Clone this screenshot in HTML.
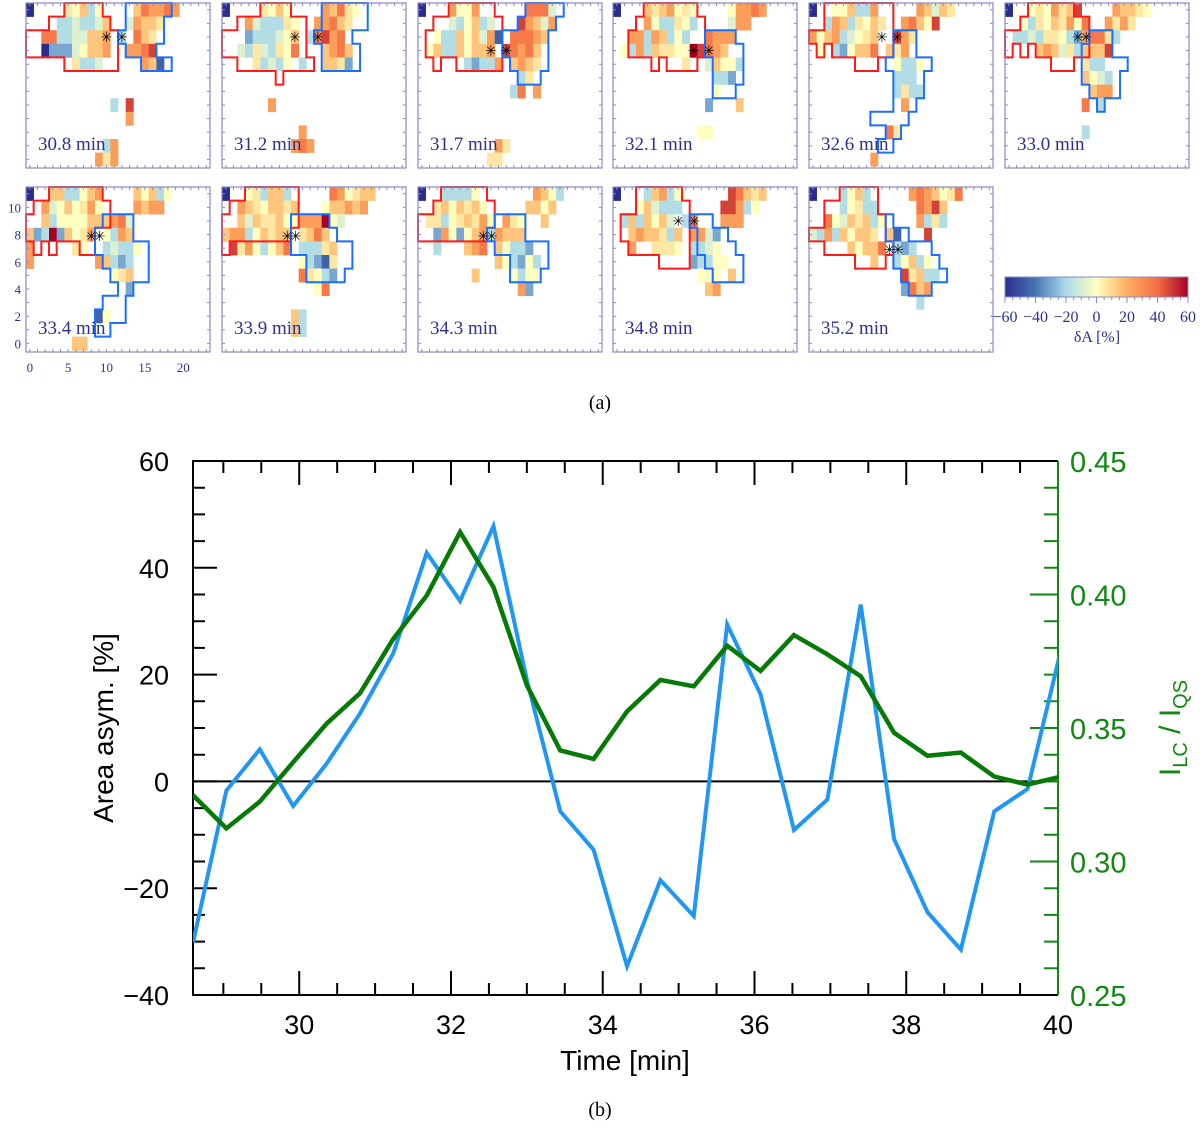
<!DOCTYPE html>
<html><head><meta charset="utf-8"><style>
html,body{margin:0;padding:0;background:#fff;}
svg{display:block;}
</style></head><body>
<svg id="fig" width="1200" height="1129" viewBox="0 0 1200 1129" xmlns="http://www.w3.org/2000/svg">
<g id="topPanels"></g>
<g id="colorbar"></g>
<text x="600" y="409" font-family="Liberation Serif, serif" font-size="20" text-anchor="middle">(a)</text>
<g id="chart"></g>
<text x="600" y="1116" font-family="Liberation Serif, serif" font-size="20" text-anchor="middle">(b)</text>
</svg>
<script>
// ===== Panel (a) data =====
const panelTimes = ["30.8","31.2","31.7","32.1","32.6","33.0","33.4","33.9","34.3","34.8","35.2"];
const levelValues = {B:-60,b:-45,m:-30,c:-18,d:-8,e:0,y:6,Y:14,o:25,O:36,r:48,R:60};
const grids = [
["B....yeYce....YOooOo....","....ccdccdY..doYYy......","..OOccddYYo.c.OYy.......","..BmmmdeYYo..ooOr.......","......yccd.....oYb......","........................","........................","...........c.r..........",".............o..........","........................","..........co............",".........oyo............"],
["B....yeYe....oYOye......","...odcccye..ooOYy.......","...mcccdeY.cOroO........","..dcydcyeO...YoOY.......","....ycdce.c..YYym.......","........................","........................","......o.................","........................","..........o.............",".........oOo............","........................"],
["B...oeeo......OOOd......","....dceYcd...roYdo......","..eccYeYdob.OOOoY.......",".eYccYeYYo.rOoOY........","......cmcco.YoYy........",".............cy.........","............cO.o........","........................","........................","........................","..........oy............",".........yy............."],
["B...YyYoeye....eooOo....","....oeccyec....doo......","..oocoYcec..Oooo........",".ecocYyyeeRrOoY.........",".........y..dYeec.......",".............ccm........",".............e..........","............m...Y.......","........................","...........ee...........","........................","........................"],
["B..eeYcco.....oYdYy.....","..coYcyeYy..oOYer.......","oeYocdeyY..roy..........",".e.cmeYYO.Yyo...........","...........ecce.........","...........ccc..........","...........cycc.........","............o...........","........................","..........Oy............","........................","........o..............."],
["B..eyeoyYr....oYYye.....","..ecyeYyoeO..oyoy.......",".ccdcyyecmoOOyc.........","....YoYdycYYYr..........","..........ycc...........","..........Yedc..........","...........Yoo..........","..........O.c...........","........................","..........c.............","........................","........................"],
["B..YYcceYo....YeYce.....","..odeYeyoe....oYoo......","..YceeeeYYYoOd..........","YmcRmYeyo.ecoY..........","o.....ye..cdcce.........","o........oYcmc..........","...........eyY..........",".............m..........","........................",".........be.............","........................","......YY................"],
["B..eycYYc.....OoeyYY....","..oYyeYYyY...eYYoYo.....","..YdYyyYeeoooRed........","YooceYyYY.yYOY..........",".ryoeceYO.cccyY.........","..........ecmby.........","..........Oyecm.........","............eO..........","........................",".........Yc.............",".........Yc.............","........................"],
["B..cccce.......oYec.....","..yYeYyYe.....YYeY......",".yyceyYyoe.oye..Y.......","..moemeYocoYYY..........","..c...YoO.Yeccm.........","..........Yecmec........",".......Y....ecee........",".............om.........","........................","........................","........................","........................"],
["B...cYoce......rOYyY....","...eYdccc.....rroce.....",".cYcYeYd.cO...ooo.......","..YoYYycY.oodm..........","..o..yyye.ccde..........","..........mccee.........","...........eee.Y........","............Yo..........","........................","........................","........................","........................"],
["B...ceYc.....oOoYeyO....","....ceycc.....OorY......","..OedYyYce....ocyc......","dcocYeYYy.Yb...r........",".....YeYYO.cmc..........","........Y..ceYce........","............ryYcc.......","............mOYo........","..............c.........","........................","........................","........................"]
];
const redRegions = [
[[0,5,9],[1,3,10],[2,0,11],[3,0,11],[4,5,11]],
[[0,5,8],[1,2,10],[2,0,10],[3,0,10],[4,2,11],[5,7,7]],
[[0,4,9],[1,2,10],[2,1,10],[3,1,10],[4,2,2],[4,5,10]],
[[0,4,10],[1,3,11],[2,2,11],[3,2,11],[4,5,5],[4,7,10]],
[[0,2,10],[1,2,10],[2,0,10],[3,1,1],[3,3,10],[4,6,8]],
[[0,3,8],[1,2,10],[2,0,10],[3,0,0],[3,2,2],[3,4,10],[4,6,8]],
[[0,3,9],[1,1,10],[2,0,10],[3,0,8],[4,1,1],[4,3,3],[4,7,8]],
[[0,3,9],[1,1,9],[2,0,9],[3,0,8],[4,0,0]],
[[0,3,8],[1,2,9],[2,0,9],[3,0,8]],
[[0,3,8],[1,3,9],[2,1,9],[3,1,9],[4,2,9],[5,6,9]],
[[0,4,8],[1,2,8],[2,2,9],[3,0,9],[4,2,10],[5,6,9]]
];
const blueRegions = [
[[0,13,18],[1,13,17],[2,12,17],[3,13,16],[4,15,18]],
[[0,13,18],[1,13,18],[2,12,16],[3,13,17],[4,13,17]],
[[0,14,18],[1,13,17],[2,11,16],[3,11,16],[4,12,16],[5,13,15]],
[[2,12,15],[3,12,16],[4,13,16],[5,13,16],[6,13,15]],
[[2,11,13],[3,11,13],[4,10,15],[5,11,14],[6,11,14],[7,11,13],[8,8,12],[9,10,11],[10,9,10]],
[[2,11,13],[3,10,13],[4,10,15],[5,10,14],[6,11,14],[7,12,12]],
[[2,10,13],[3,9,13],[4,9,15],[5,10,15],[6,11,15],[7,12,13],[8,10,12],[9,9,12],[10,9,10]],
[[2,9,13],[3,9,14],[4,9,16],[5,11,16],[6,11,15]],
[[2,10,13],[3,9,13],[4,10,16],[5,12,16],[6,12,15]],
[[2,10,12],[3,11,14],[4,11,15],[5,12,16],[6,13,16]],
[[2,10,10],[3,10,12],[4,11,15],[5,11,16],[6,12,17],[7,13,15]]
];
const starCols = [[10.5,12.5],[9.5,12.5],[9.5,11.5],[10.5,12.5],[9.5,11.5],[9.5,10.6],[8.5,9.6],[8.5,9.6],[8.5,9.6],[8.5,10.6],[10.5,11.6]];
const starRows = [2.5,2.5,3.5,3.5,2.5,2.5,3.6,3.6,3.6,2.5,4.6];
const cbTicks = [-60,-40,-20,0,20,40,60];
const yMapTicks = [0,2,4,6,8,10];
const xMapTicks = [0,5,10,15,20];

// ===== Panel (b) data =====
const times = [28.6,29.04,29.48,29.92,30.36,30.8,31.24,31.68,32.12,32.56,33.0,33.44,33.88,34.32,34.76,35.2,35.64,36.08,36.52,36.96,37.4,37.84,38.28,38.72,39.16,39.6,40.04];
const areaAsym = [-30.2,-1.7,6.0,-4.6,3.3,12.7,24.0,42.8,33.8,47.8,19.0,-5.6,-12.8,-34.6,-18.5,-25.2,29.4,16.3,-9.1,-3.4,33.1,-10.8,-24.5,-31.5,-5.6,-1.4,24.7];
const intensity = [0.3248,0.3124,0.3224,0.3372,0.3516,0.3630,0.3834,0.3996,0.4234,0.4028,0.3660,0.3416,0.3384,0.3562,0.3680,0.3656,0.3808,0.3714,0.3848,0.3776,0.3694,0.3482,0.3396,0.3408,0.3318,0.3288,0.3318];
const xTicks = [30,32,34,36,38,40];
const yTicks = [-40,-20,0,20,40,60];
const rTicks = [0.25,0.30,0.35,0.40,0.45];
const rTickLabels = ["0.25","0.30","0.35","0.40","0.45"];

const NS = "http://www.w3.org/2000/svg";
function mk(tag, attrs, parent){const e=document.createElementNS(NS,tag);for(const k in attrs)e.setAttribute(k,attrs[k]);parent.appendChild(e);return e;}

const cStops=[[-60,[43,45,140]],[-40,[69,117,180]],[-20,[171,217,233]],[0,[255,255,191]],[20,[253,174,97]],[40,[244,109,67]],[60,[165,0,38]]];
function cmap(v){v=Math.max(-60,Math.min(60,v));for(let i=0;i<cStops.length-1;i++){const a=cStops[i],b=cStops[i+1];if(v<=b[0]){const t=(v-a[0])/(b[0]-a[0]);const c=a[1].map((x,j)=>Math.round(x+(b[1][j]-x)*t));return`rgb(${c[0]},${c[1]},${c[2]})`;}}return"rgb(165,0,38)";}

const tp=document.getElementById('topPanels');
const PW=184,PH=165,CW=7.67,CH=13.6,NC=24,NR=12;
const panelX=[26,222,418,613,809,1005,26,222,418,613,809];
const panelY=[3,3,3,3,3,3,187,187,187,187,187];
const frame="#8a8ac8",navy="#2e3192";
grids.forEach((g,p)=>{
  const x0=panelX[p],y0=panelY[p];
  const pg=mk('g',{},tp);
  
  
  g.forEach((row,r)=>{for(let c=0;c<NC;c++){const ch=row[c];if(!ch||ch==='.')continue;const v=levelValues[ch];
    const cell=mk('rect',{x:x0+c*CW,y:y0+r*CH,width:CW+0.3,height:CH+0.3,fill:cmap(v)},pg);
    
    }});
  function outline(regs,color,nm){
    const m=Array.from({length:NR},()=>Array(NC).fill(false));
    regs.forEach(([r,a,b])=>{for(let c=a;c<=b;c++)m[r][c]=true;});
    let d="";const on=(r,c)=>r>=0&&r<NR&&c>=0&&c<NC&&m[r][c];
    for(let r=0;r<NR;r++)for(let c=0;c<NC;c++){if(!m[r][c])continue;const X=x0+c*CW,Y=y0+r*CH;
      if(!on(r-1,c))d+=`M${X},${Y}H${X+CW}`;if(!on(r+1,c))d+=`M${X},${Y+CH}H${X+CW}`;
      if(!on(r,c-1))d+=`M${X},${Y}V${Y+CH}`;if(!on(r,c+1))d+=`M${X+CW},${Y}V${Y+CH}`;}
    const pth=mk('path',{d:d,stroke:color,'stroke-width':2,fill:'none','stroke-linecap':'square'},pg);
    
    
  }
  outline(redRegions[p],'#ff1a1a','red-contour');
  outline(blueRegions[p],'#1a6fff','blue-contour');
  starCols[p].forEach(sc=>{const st=mk('text',{x:x0+sc*CW,y:y0+starRows[p]*CH+5,'font-size':14,'text-anchor':'middle','font-family':'DejaVu Sans, sans-serif',fill:'#000'},pg);st.textContent='✳';
    
    });
  const fr=mk('rect',{x:x0,y:y0,width:PW,height:PH,fill:'none',stroke:frame,'stroke-width':1.2},pg);
  
  
  let td="";for(let i=0;i<=NC;i+=1){const X=x0+(i+0.5)*CW;if(X>x0+PW)break;td+=`M${X},${y0+PH}v-3M${X},${y0}v3`;}
  for(let j=0;j<NR;j++){const Y=y0+(j+0.5)*CH;td+=`M${x0},${Y}h3M${x0+PW},${Y}h-3`;}
  mk('path',{d:td,stroke:frame,'stroke-width':1},pg);
  const lab=mk('text',{x:x0+12,y:y0+147,'font-family':'Liberation Serif, serif','font-size':19,fill:navy},pg);
  lab.textContent=panelTimes[p]+' min';
  
  
});
yMapTicks.forEach(v=>{const t=mk('text',{x:21,y:panelY[6]+(11-v+0.5)*CH+5,'font-family':'Liberation Serif, serif','font-size':13,fill:navy,'text-anchor':'end'},tp);t.textContent=v;
  
  });
xMapTicks.forEach(v=>{const t=mk('text',{x:panelX[6]+(v+0.5)*CW,y:372,'font-family':'Liberation Serif, serif','font-size':13,fill:navy,'text-anchor':'middle'},tp);t.textContent=v;
  
  });

const cb=document.getElementById('colorbar');
const cbx0=1005,cbx1=1188,cby=277,cbh=20;
const defs=mk('defs',{},cb);const lg=mk('linearGradient',{id:'cbg',x1:0,x2:1,y1:0,y2:0},defs);
for(let i=0;i<=24;i++){const v=-60+i*5;mk('stop',{offset:(i/24),'stop-color':cmap(v)},lg);}
mk('rect',{x:cbx0,y:cby,width:cbx1-cbx0,height:cbh,fill:'url(#cbg)',stroke:frame,'stroke-width':1},cb);
const cbs=v=>cbx0+(v+60)/120*(cbx1-cbx0);
let cbd="";for(let v=-60;v<=60;v+=5){cbd+=`M${cbs(v)},${cby+cbh}v${v%20===0?6:3}`;}
mk('path',{d:cbd,stroke:frame,'stroke-width':1},cb);
cbTicks.forEach(v=>{const t=mk('text',{x:cbs(v),y:cby+cbh+25,'font-family':'Liberation Serif, serif','font-size':16,fill:navy,'text-anchor':'middle'},cb);t.textContent=v<0?'\u2212'+(-v):String(v);
  
  });
const cbt=mk('text',{x:1097,y:cby+cbh+45,'font-family':'Liberation Serif, serif','font-size':16,fill:navy,'text-anchor':'middle'},cb);cbt.textContent='δA [%]';



const ch=document.getElementById('chart');
const L=193,R=1058,T=461,B=995;
const xs=t=>L+(t-28.6)/(40-28.6)*(R-L);
const ys=v=>B-(v+40)/100*(B-T);
const yr=v=>B-(v-0.25)/0.2*(B-T);
const dfs=mk('defs',{},ch);const cp=mk('clipPath',{id:'plotclip'},dfs);mk('rect',{x:L,y:T,width:R-L,height:B-T},cp);
const zl=mk('line',{x1:L,x2:R,y1:ys(0),y2:ys(0),stroke:'#000','stroke-width':2},ch);


let tk="";
for(let t=28.5;t<=40.001;t+=0.5){if(t<28.6)continue;const X=xs(t);const big=Math.abs(t/2-Math.round(t/2))<1e-6;const len=big?24:12;tk+=`M${X},${B}v-${len}M${X},${T}v${len}`;}
for(let v=-40;v<=60;v+=5){const Y=ys(v);const len=(v%20===0)?24:12;tk+=`M${L},${Y}h${len}`;}
mk('path',{d:tk,stroke:'#000','stroke-width':2},ch);
let gt="";for(let i=0;i<=20;i++){const v=0.25+i*0.01;const Y=yr(v);const len=(i%5===0)?28:14;gt+=`M${R},${Y}h-${len}`;}
mk('path',{d:gt,stroke:'#118811','stroke-width':2},ch);
mk('path',{d:`M${R},${T}H${L}V${B}H${R}`,stroke:'#000','stroke-width':2,fill:'none'},ch);
const ra=mk('line',{x1:R,x2:R,y1:T,y2:B,stroke:'#118811','stroke-width':2},ch);


const bl=mk('polyline',{points:times.map((t,i)=>xs(t)+','+ys(areaAsym[i])).join(' '),fill:'none',stroke:'#2196f3','stroke-width':4,'stroke-linejoin':'miter','clip-path':'url(#plotclip)'},ch);


const gl=mk('polyline',{points:times.map((t,i)=>xs(t)+','+yr(intensity[i])).join(' '),fill:'none',stroke:'#057a05','stroke-width':4.5,'clip-path':'url(#plotclip)'},ch);


const F='Liberation Sans, sans-serif';
xTicks.forEach(v=>{const t=mk('text',{x:xs(v),y:1034,'font-family':F,'font-size':27,'text-anchor':'middle',fill:'#000'},ch);t.textContent=v;
  
  });
yTicks.forEach(v=>{const t=mk('text',{x:169,y:ys(v)+10,'font-family':F,'font-size':27,'text-anchor':'end',fill:'#000'},ch);t.textContent=v<0?'\u2212'+(-v):String(v);
  
  });
rTicks.forEach((v,i)=>{const t=mk('text',{x:1070,y:yr(v)+11,'font-family':F,'font-size':29,fill:'#118811'},ch);t.textContent=rTickLabels[i];
  
  });
const xt=mk('text',{x:625,y:1070,'font-family':F,'font-size':28,'text-anchor':'middle',fill:'#000'},ch);xt.textContent='Time [min]';


const yt=mk('text',{x:0,y:0,'font-family':F,'font-size':28,'text-anchor':'middle',fill:'#000',transform:'translate(113,728) rotate(-90)'},ch);yt.textContent='Area asym. [%]';


const rt=mk('text',{x:0,y:0,'font-family':F,'font-size':30,'text-anchor':'middle',fill:'#118811',transform:'translate(1180,728) rotate(-90)'},ch);
rt.innerHTML='I<tspan font-size="20" dy="7">LC</tspan><tspan dy="-7"> / I</tspan><tspan font-size="20" dy="7">QS</tspan>';


</script>
</body></html>
